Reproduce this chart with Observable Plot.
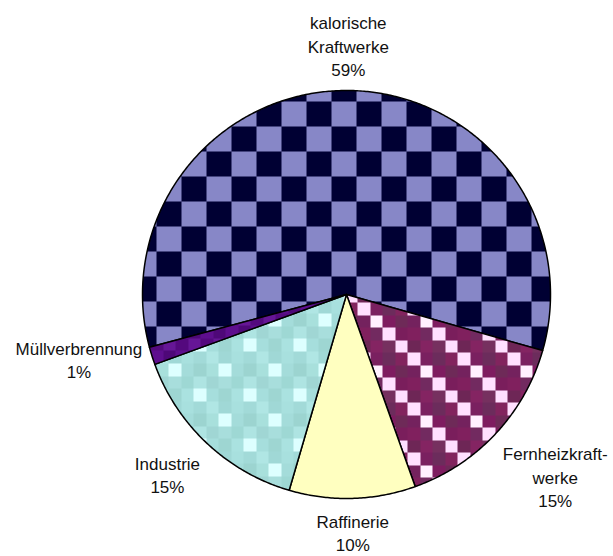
<!DOCTYPE html>
<html><head><meta charset="utf-8">
<script src="https://cdn.jsdelivr.net/npm/d3@7"></script>
<script src="https://cdn.jsdelivr.net/npm/@observablehq/plot@0.6"></script>
<style>body{margin:0;background:#fff;} svg{display:block;}</style>
</head><body><div id="chart"></div>
<script>
// ---- data ----
const categories = ["kalorische Kraftwerke", "Fernheizkraftwerke", "Raffinerie", "Industrie", "Müllverbrennung"];
const labelLines = [["kalorische", "Kraftwerke"], ["Fernheizkraft-", "werke"], ["Raffinerie"], ["Industrie"], ["Müllverbrennung"]];
const values = [58.6, 15.1, 10.0, 14.9, 1.4];

// ---- styling ----
const patternIds = ["pKal", "pFern", "pRaff", "pInd", "pMuell"];
const W = 613, H = 556, cx = 346, cy = 294, R = 204;
const startDeg = -105;
const fontSize = 17, lineHeight = 1.38;
const fontFamily = "'Liberation Sans', Arial, sans-serif";

// ---- geometry (data space: unit circle) ----
const total = d3.sum(values);
let acc = startDeg;
const slices = values.map((v, i) => {
  const a0 = acc, a1 = acc + v / total * 360;
  acc = a1;
  const pts = [{x: 0, y: 0}];
  const steps = Math.max(2, Math.ceil((a1 - a0) / 0.5));
  for (let k = 0; k <= steps; k++) {
    const t = (a0 + (a1 - a0) * k / steps) * Math.PI / 180;
    pts.push({x: Math.sin(t), y: Math.cos(t)});
  }
  pts.push({x: 0, y: 0});
  return {i, a0, a1, pts};
});

// label boxes: anchored just outside the rim at the mid-angle, box attached by its nearest edge/corner
const ctx = document.createElement("canvas").getContext("2d");
ctx.font = `${fontSize}px ${fontFamily}`;
const side = u => Math.sign(u) * Math.min(1, Math.max(0, (Math.abs(u) - 0.3) / 0.35));
const labels = slices.map(s => {
  const lines = [...labelLines[s.i], Math.round(values[s.i] / total * 100) + "%"];
  const w = d3.max(lines, l => ctx.measureText(l).width);
  const h = lines.length * lineHeight * fontSize;
  const m = ((s.a0 + s.a1) / 2) * Math.PI / 180;
  const ux = Math.sin(m), uy = Math.cos(m);
  return {
    x: ux * 1.05 + side(ux) * (w / 2) / R,
    y: uy * 1.05 + side(uy) * (h / 2) / R,
    text: lines.join("\n")
  };
});

const plot = Plot.plot({
  width: W, height: H,
  marginLeft: cx - R, marginRight: W - cx - R,
  marginTop: cy - R, marginBottom: H - cy - R,
  x: {domain: [-1, 1], axis: null},
  y: {domain: [-1, 1], axis: null},
  style: {background: "white", fontFamily},
  marks: [
    ...slices.map(s => Plot.line(s.pts, {
      x: "x", y: "y", fill: `url(#${patternIds[s.i]})`,
      stroke: "black", strokeWidth: 1.5, strokeLinejoin: "round"
    })),
    Plot.text(labels, {x: "x", y: "y", text: "text", fontSize, lineHeight, fill: "#111", fontFamily})
  ]
});

// ---- patterns ----
const defs = d3.select(plot).insert("defs", ":first-child");
function cellPattern(id, x, y, cell, matrix) {
  const n = matrix.length, m = matrix[0].length;
  const p = defs.append("pattern").attr("id", id).attr("patternUnits", "userSpaceOnUse")
    .attr("x", x).attr("y", y).attr("width", m * cell).attr("height", n * cell);
  p.append("rect").attr("width", m * cell).attr("height", n * cell).attr("fill", matrix[0][1] || matrix[0][0])
    .attr("shape-rendering", "crispEdges");
  matrix.forEach((row, r) => row.forEach((c, k) =>
    p.append("rect").attr("x", k * cell).attr("y", r * cell)
      .attr("width", cell + 0.5).attr("height", cell + 0.5).attr("fill", c)
      .attr("shape-rendering", "crispEdges")));
}
const N = "#000033", L = "#8787C7";
cellPattern("pKal", 6, 1, 25, [[N, L], [L, N]]);
const P = "#FFE0FF", Q = "#FFF0FF";
cellPattern("pFern", 357, 302, 12.5, [
  [P, "#7A2060", "#6C2C5C", "#82245E"],
  ["#74225E", Q, "#7E1C60", "#6E2A58"],
  ["#80205E", "#722A60", P, "#7A1E5C"],
  ["#6E2656", "#842462", "#76305F", P]
]);
cellPattern("pRaff", 0, 0, 10, [["#FFFFC0"]]);
const C = "#DDFFFF";
cellPattern("pInd", 243, 338, 12.5, [
  [C, "#A6DEDC", "#9ED6D2", "#AAE2E0"],
  ["#A2DAD8", "#B0E6E4", "#A0D8D6", "#A8E0DE"],
  ["#9CD4D0", "#A8E0DC", C, "#A4DCDA"],
  ["#AEE4E2", "#A0D6D4", "#A8DEDC", "#9ED8D4"]
]);
cellPattern("pMuell", 0, 0, 12.5, [["#5E0E8E", "#4E0878"], ["#54097E", "#661696"]]);

document.getElementById("chart").appendChild(plot);
</script>
</body></html>
